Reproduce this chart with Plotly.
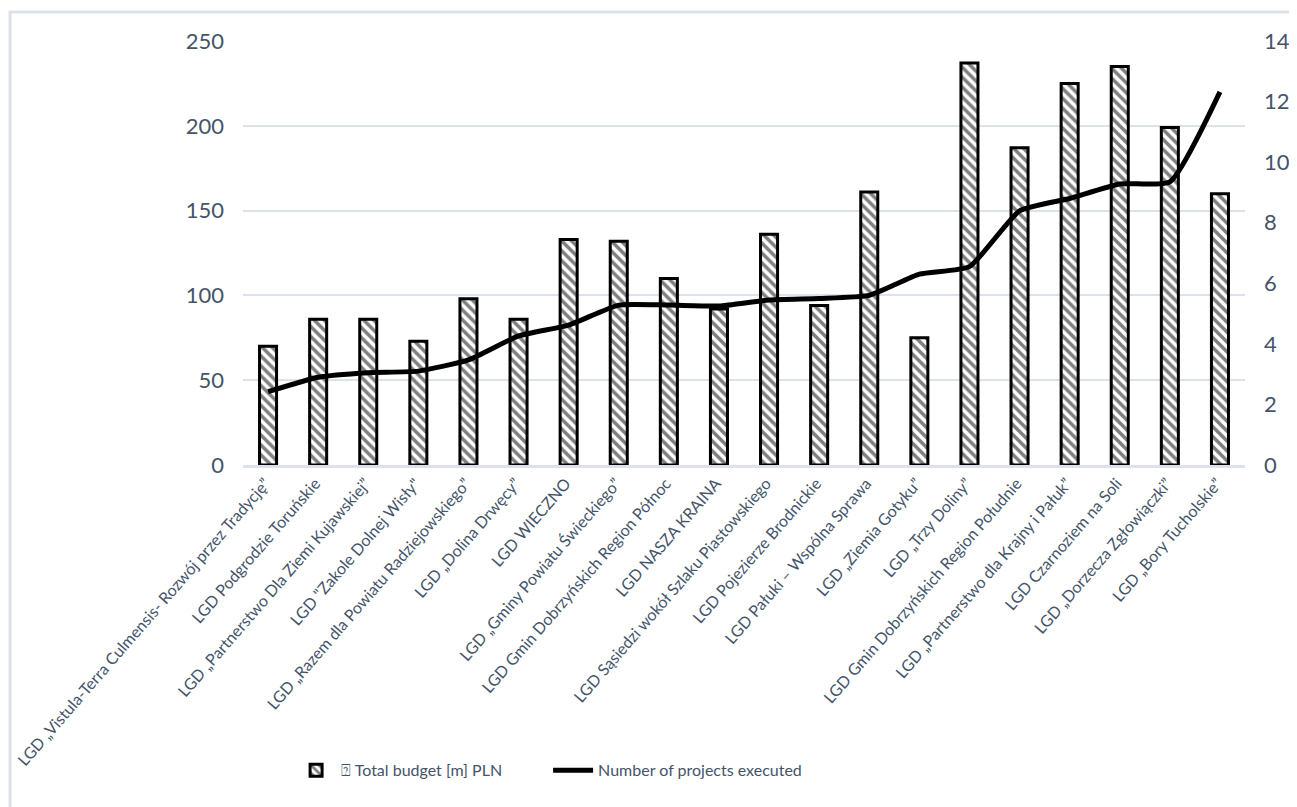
import plotly.graph_objects as go

categories = [
    "LGD „Vistula-Terra Culmensis- Rozwój przez Tradycję”",
    "LGD Podgrodzie Toruńskie",
    "LGD „Partnerstwo Dla Ziemi Kujawskiej”",
    "LGD \"Zakole Dolnej Wisły\"",
    "LGD „Razem dla Powiatu Radziejowskiego”",
    "LGD „Dolina Drwęcy”",
    "LGD WIECZNO",
    "LGD „Gminy Powiatu Świeckiego”",
    "LGD Gmin Dobrzyńskich Region Północ",
    "LGD NASZA KRAINA",
    "LGD Sąsiedzi wokół Szlaku Piastowskiego",
    "LGD Pojezierze Brodnickie",
    "LGD Pałuki – Wspólna Sprawa",
    "LGD „Ziemia Gotyku”",
    "LGD „Trzy Doliny”",
    "LGD Gmin Dobrzyńskich Region Południe",
    "LGD „Partnerstwo dla Krajny i Pałuk”",
    "LGD Czarnoziem na Soli",
    "LGD „Dorzecza Zgłowiączki”",
    "LGD „Bory Tucholskie”",
]

total_budget = [70, 86, 86, 73, 98, 86, 133, 132, 110, 92,
                136, 94, 161, 75, 237, 187, 225, 235, 199, 160]

projects_executed = [2.42, 2.9, 3.05, 3.1, 3.47, 4.26, 4.62, 5.28, 5.28, 5.25,
                     5.45, 5.5, 5.6, 6.3, 6.55, 8.39, 8.8, 9.28, 9.35, 12.32]

left_ticks = [0, 50, 100, 150, 200, 250]
right_ticks = [0, 2, 4, 6, 8, 10, 12, 14]

TEXT = "#44546A"
GRID = "#DDE2EA"
FONT = "Lato, Open Sans, sans-serif"

fig = go.Figure()
fig.add_trace(go.Bar(
    x=categories, y=total_budget, name="⍰ Total budget [m] PLN",
    width=0.34,
    marker=dict(color="white",
                line=dict(color="black", width=3),
                pattern=dict(shape="\\", fgcolor="black", bgcolor="white",
                             size=7, solidity=0.5)),
))
fig.add_trace(go.Scatter(
    x=categories, y=projects_executed, name="Number of projects executed",
    yaxis="y2", mode="lines",
    line=dict(color="black", width=5, shape="spline", smoothing=0.5),
))

fig.update_layout(
    width=1289, height=799,
    margin=dict(l=235, r=52, t=33, b=342),
    paper_bgcolor="white", plot_bgcolor="white",
    font=dict(family=FONT, color=TEXT),
    showlegend=True,
    legend=dict(orientation="h", x=0.048, y=-0.72, xanchor="left", yanchor="middle",
                font=dict(size=16, color=TEXT, family=FONT),
                itemwidth=40, entrywidth=202, entrywidthmode="pixels",
                tracegroupgap=0),
    xaxis=dict(tickangle=-49, tickfont=dict(size=16, color=TEXT),
               showline=True, linecolor=GRID, linewidth=3,
               showgrid=False, ticks="", automargin=False,
               ticklabelshift=-3),
    yaxis=dict(range=[0, 250], tickvals=left_ticks, showgrid=True,
               gridcolor=GRID, gridwidth=2, zeroline=False, automargin=False,
               tickfont=dict(size=22, color=TEXT), ticklabelstandoff=18),
    yaxis2=dict(range=[0, 14], tickvals=right_ticks, overlaying="y", side="right",
                showgrid=False, zeroline=False, automargin=False,
                tickfont=dict(size=22, color=TEXT), ticklabelstandoff=18),
    shapes=[dict(type="rect", xref="paper", yref="paper",
                 x0=-0.2325, x1=1.0509, y0=-0.81, y1=1.0684,
                 line=dict(color=GRID, width=3), fillcolor="rgba(0,0,0,0)",
                 layer="below")],
)

fig.write_html("out.html")
